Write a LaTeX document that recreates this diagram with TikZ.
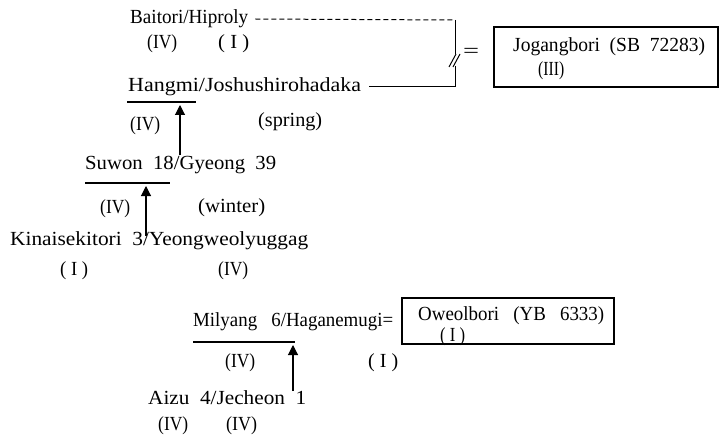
\documentclass[tikz,border=0pt]{standalone}
\usepackage{fontspec}
\setmainfont{Liberation Serif}
\usetikzlibrary{arrows.meta}
\newcommand{\fitw}[2]{\resizebox{#1}{\height}{#2}}
\begin{document}
\begin{tikzpicture}[x=1pt,y=-1pt,
  lbl/.style={anchor=west,inner sep=0pt,font=\fontsize{20}{22}\selectfont},
  conn/.style={line width=1pt},
  dconn/.style={line width=1pt,dash pattern=on 5pt off 3pt},
  uline/.style={line width=1.1pt},
  arr/.style={line width=1.1pt,-{Triangle[width=10pt,length=10pt]}},
  boxstyle/.style={draw,line width=1.1pt,inner sep=0pt,rectangle}]
\useasboundingbox (0,0) rectangle (721,436);
% top group
\node[lbl] (bait) at (130,19) {\fitw{118pt}{Baitori/Hiproly}};
\node[lbl] (baitA) at (147,44) {\fitw{30pt}{(IV)}};
\node[lbl] (baitB) at (218,44) {\fitw{31pt}{( I )}};
\node[lbl] (hang) at (128,87) {\fitw{233pt}{Hangmi/Joshushirohadaka}};
\node[lbl] (hangA) at (130,126) {\fitw{30pt}{(IV)}};
\node[lbl] (spring) at (258,122) {\fitw{64pt}{(spring)}};
\node[lbl] (eq1) at (463,53) {\fitw{16pt}{=}};
\node[boxstyle,minimum width=224pt,minimum height=60pt] (box1) at (606,57) {};
\node[lbl] (jog) at (513,47) {\fitw{192pt}{Jogangbori\ \ (SB\ \ 72283)}};
\node[lbl] (jogA) at (538,71) {\fitw{26pt}{(III)}};
% connectors to box
\coordinate (c1) at (455,20);
\coordinate (c2) at (455,87);
\coordinate (b1) at (455,54);
\coordinate (b2) at (455,66);
\draw[dconn] ([xshift=7pt]bait.east) -- (c1);
\draw[conn] (c1) -- (b1);
\draw[conn] ([xshift=8pt]hang.east) -- (c2) -- (b2);
\draw[conn] (449,67) -- (456,54);
\draw[conn] (453,67) -- (460,54);
% Suwon
\node[lbl] (suw) at (85,165) {\fitw{191pt}{Suwon\ \ 18/Gyeong\ \ 39}};
\node[lbl] (suwA) at (100,209) {\fitw{30pt}{(IV)}};
\node[lbl] (winter) at (198,208) {\fitw{67pt}{(winter)}};
\node[lbl] (kin) at (10,241) {\fitw{298pt}{Kinaisekitori\ \ 3/Yeongweolyuggag}};
\node[lbl] (kinA) at (60,271) {\fitw{28pt}{( I )}};
\node[lbl] (kinB) at (218,271) {\fitw{30pt}{(IV)}};
% underlines and arrows
\draw[uline] (127,102) -- (196,102);
\coordinate (h1) at (180,155);
\coordinate (h2) at (180,105);
\draw[arr] (h1) -- (h2);
\draw[uline] (85,183) -- (170,183);
\coordinate (s1) at (146,236);
\coordinate (s2) at (146,186);
\draw[arr] (s1) -- (s2);
% Milyang group
\node[lbl] (mil) at (193,322) {\fitw{200pt}{Milyang\ \ \ 6/Haganemugi=}};
\node[lbl] (milA) at (225,363) {\fitw{30pt}{(IV)}};
\node[lbl] (milB) at (368,363) {\fitw{30pt}{( I )}};
\node[boxstyle,minimum width=212pt,minimum height=46pt] (box2) at (508,321) {};
\node[lbl] (owe) at (418,316) {\fitw{186pt}{Oweolbori\ \ \ (YB\ \ \ 6333)}};
\node[lbl] (oweA) at (440,337) {\fitw{25pt}{( I )}};
\node[lbl] (aizu) at (148,398) {\fitw{158pt}{Aizu\ \ 4/Jecheon\ \ 1}};
\node[lbl] (aizuA) at (158,426) {\fitw{30pt}{(IV)}};
\node[lbl] (aizuB) at (226,426) {\fitw{31pt}{(IV)}};
\draw[uline] (193,342) -- (295,342);
\coordinate (m1) at (293,391);
\coordinate (m2) at (293,345);
\draw[arr] (m1) -- (m2);
\end{tikzpicture}
\end{document}
